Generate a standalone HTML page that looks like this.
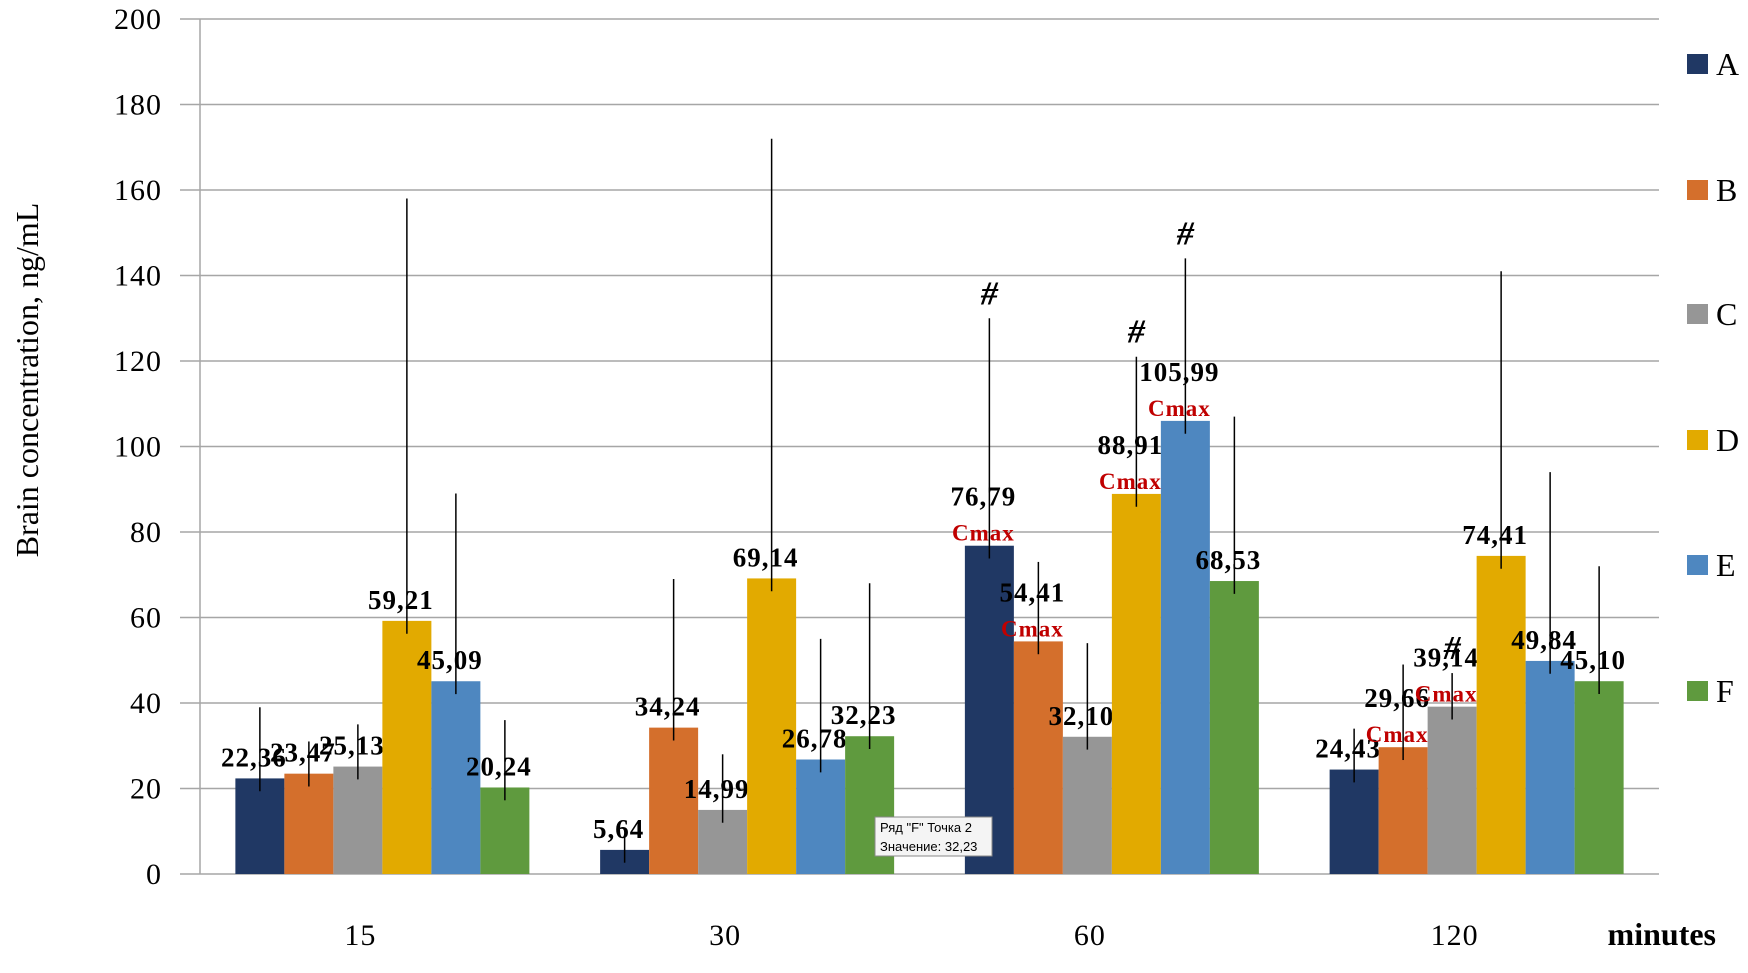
<!DOCTYPE html>
<html><head><meta charset="utf-8"><style>
body{margin:0;background:#fff;width:1748px;height:968px;overflow:hidden}
svg text{font-family:"Liberation Serif",serif}
</style></head><body>
<svg id="chart" width="1748" height="968" xmlns="http://www.w3.org/2000/svg"></svg>
<script>
const categories=["15","30","60","120"];
const seriesNames=["A","B","C","D","E","F"];
const seriesValues=[
 [22.36,5.64,76.79,24.43],
 [23.47,34.24,54.41,29.66],
 [25.13,14.99,32.10,39.14],
 [59.21,69.14,88.91,74.41],
 [45.09,26.78,105.99,49.84],
 [20.24,32.23,68.53,45.10]];
const errorTops=[
 [39,9,130,34],
 [31,69,73,49],
 [35,28,54,47],
 [158,172,121,141],
 [89,55,144,94],
 [36,68,107,72]];
const cmaxFlags=[[0,2],[1,2],[3,2],[4,2],[1,3],[2,3]];
const hashFlags=[[0,2],[3,2],[4,2],[2,3]];
const yTicks=[0,20,40,60,80,100,120,140,160,180,200];
const colors=["#203864","#d46f2c","#969696","#e2aa00","#4e87c0","#5f9a3e"];
const svg=document.getElementById('chart');
const NS="http://www.w3.org/2000/svg";
const X0=200,X1=1659,Y0=874,Y1=19,YMAX=200;
const y=v=>Y0-(v/YMAX)*(Y0-Y1);
const catW=(X1-X0)/categories.length,barW=49,gapSide=(catW-barW*6)/2;
const bx=(c,s)=>X0+c*catW+gapSide+s*barW;
const isCmax=(s,c)=>cmaxFlags.some(f=>f[0]===s&&f[1]===c);
function el(t,a,txt){const e=document.createElementNS(NS,t);for(const k in a)e.setAttribute(k,a[k]);if(txt!==undefined)e.textContent=txt;svg.appendChild(e);return e;}
yTicks.forEach(t=>{
 const g=el('line',{x1:X0-20,x2:X1,y1:y(t),y2:y(t),stroke:'#a6a6a6','stroke-width':1.5});
 
 
 const l=el('text',{x:162,y:y(t)+10,'text-anchor':'end','font-size':30,'letter-spacing':1},String(t));
 
 
});
const ax=el('line',{x1:X0,x2:X0,y1:Y1,y2:Y0,stroke:'#a6a6a6','stroke-width':1.5});


const yt=el('text',{x:0,y:0,'font-size':32,'text-anchor':'middle',transform:'translate(38,380) rotate(-90)'},'Brain concentration, ng/mL');


categories.forEach((c,ci)=>{
 const t=el('text',{x:X0+ci*catW+catW/2-22,y:945,'text-anchor':'middle','font-size':30,'letter-spacing':1},c);
 
 
});
const mt=el('text',{x:1716,y:945,'text-anchor':'end','font-size':32,'font-weight':'bold'},'minutes');


seriesValues.forEach((vals,s)=>{
 vals.forEach((v,c)=>{
  const r=el('rect',{x:bx(c,s),y:y(v),width:barW,height:Y0-y(v),fill:colors[s]});
  
  
  const cx=bx(c,s)+barW/2;
  const e=el('line',{x1:cx,x2:cx,y1:y(errorTops[s][c]),y2:y(Math.max(v-3,0)),stroke:'#000','stroke-width':1.5});
  
  
  const off=isCmax(s,c)?40:12;
  const lb=el('text',{x:cx-6,y:y(v)-off,'text-anchor':'middle','font-size':27,'font-weight':'bold','letter-spacing':1},v.toFixed(2).replace('.',','));
  
  
 });
});
cmaxFlags.forEach(([s,c])=>{
 const v=seriesValues[s][c];
 const t=el('text',{x:bx(c,s)+barW/2-6,y:y(v)-5,'text-anchor':'middle','font-size':23,'font-weight':'bold',fill:'#c00000','letter-spacing':1},'Cmax');
 
 
});
hashFlags.forEach(([s,c])=>{
 const t=el('text',{x:bx(c,s)+barW/2,y:y(errorTops[s][c])-14,'text-anchor':'middle','font-size':34,'font-weight':'bold','font-style':'italic'},'#');
 
 
});
const legY=[64,190,314,440,565,691];
seriesNames.forEach((n,i)=>{
 const r=el('rect',{x:1687,y:legY[i]-10,width:21,height:20,fill:colors[i]});
 
 
 const t=el('text',{x:1716,y:legY[i]+11,'font-size':32},n);
 
 
});
const tb=el('rect',{x:875,y:817,width:117,height:39,fill:'#f4f4f4',stroke:'#888','stroke-width':1});


const t1=el('text',{x:880,y:832,'font-size':13,style:'font-family:"Liberation Sans",sans-serif'},'Ряд "F" Точка 2');


const t2=el('text',{x:880,y:851,'font-size':13,style:'font-family:"Liberation Sans",sans-serif'},'Значение: 32,23');


</script>
</body></html>
